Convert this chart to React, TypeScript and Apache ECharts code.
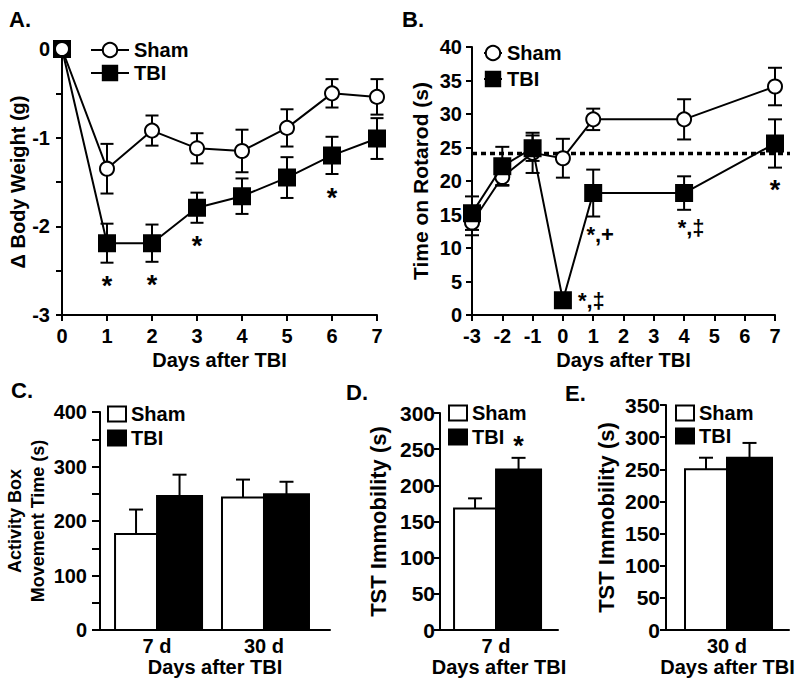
import React, { useEffect, useRef } from 'react';
import * as echarts from 'echarts';

// ---------- Panel A: body weight change ----------
const daysA = [0, 1, 2, 3, 4, 5, 6, 7];
const shamA = [0, -1.35, -0.92, -1.12, -1.15, -0.89, -0.5, -0.54];
const shamASem = [0, 0.28, 0.17, 0.17, 0.24, 0.21, 0.16, 0.2];
const tbiA = [0, -2.19, -2.19, -1.79, -1.66, -1.45, -1.2, -1.01];
const tbiASem = [0, 0.22, 0.21, 0.17, 0.2, 0.23, 0.21, 0.23];
const sigADays = [1, 2, 3, 6];
const sigAText = ['*', '*', '*', '*'];

// ---------- Panel B: rotarod ----------
const daysB = [-3, -2, -1, 0, 1, 4, 7];
const shamB = [13.8, 20.6, 24.2, 23.4, 29.2, 29.2, 34.1];
const shamBSem = [1.9, 1.2, 3.0, 2.9, 1.6, 3.0, 2.8];
const tbiB = [15.2, 22.2, 24.9, 2.2, 18.2, 18.2, 25.6];
const tbiBSem = [2.5, 2.9, 1.9, 1.0, 3.5, 2.5, 3.6];
const baselineB = 24.1;
const sigBDays = [0, 1, 4, 7];
const sigBText = ['*,‡', '*,+', '*,‡', '*'];

// ---------- Panel C: activity box ----------
const catsC = ['7 d', '30 d'];
const shamC = [176, 243];
const shamCSem = [45, 33];
const tbiC = [246, 249];
const tbiCSem = [39, 23];

// ---------- Panel D: TST 7 d ----------
const catsD = ['7 d'];
const shamD = [168];
const shamDSem = [14];
const tbiD = [222];
const tbiDSem = [16];
const sigDText = ['*'];

// ---------- Panel E: TST 30 d ----------
const catsE = ['30 d'];
const shamE = [250];
const shamESem = [18];
const tbiE = [268];
const tbiESem = [23];

// ---------- layout (not data) ----------
const FONT = "'Liberation Sans', Arial, Helvetica, sans-serif";
const posC = [0.248, 0.713];
const posD = [0.475];
const posE = [0.496];
const SHAM_W = 42;
const TBI_W = 45;

const txt = (size: number) => ({ fontFamily: FONT, fontWeight: 'bold' as const, fontSize: size, color: '#000' });
const axLine = { show: true, onZero: false, lineStyle: { color: '#000', width: 2 } };
const tick = (len: number) => ({ show: true, length: len, lineStyle: { color: '#000', width: 2 } });

const errRender = (both: boolean, cap: number, dx: number) => (params: any, api: any) => {
  const x = api.value(0);
  const m = api.value(1);
  const s = api.value(2);
  if (!s) return null;
  const hi = api.coord([x, m + s]);
  const lo = api.coord([x, both ? m - s : m]);
  const cx = hi[0] + dx;
  const st = { stroke: '#000', lineWidth: 2 };
  const children: any[] = [
    { type: 'line', shape: { x1: cx, y1: hi[1], x2: cx, y2: lo[1] }, style: st },
    { type: 'line', shape: { x1: cx - cap / 2, y1: hi[1], x2: cx + cap / 2, y2: hi[1] }, style: st },
  ];
  if (both) children.push({ type: 'line', shape: { x1: cx - cap / 2, y1: lo[1], x2: cx + cap / 2, y2: lo[1] }, style: st });
  return { type: 'group', children };
};

const barRender = (side: number, w: number, fill: string) => (params: any, api: any) => {
  const x = api.value(0);
  const v = api.value(1);
  const b = api.coord([x, 0]);
  const t = api.coord([x, v]);
  const left = side < 0 ? b[0] - w : b[0];
  return { type: 'rect', shape: { x: left, y: t[1], width: w, height: b[1] - t[1] }, style: { fill, stroke: '#000', lineWidth: 2 } };
};

const errSeries = (g: number, xs: number[], m: number[], s: number[], both: boolean, cap: number, dx: number, z: number) => ({
  type: 'custom',
  xAxisIndex: g,
  yAxisIndex: g,
  silent: true,
  z,
  encode: { x: 0, y: 1 },
  data: xs.map((x, i) => [x, m[i], s[i]]),
  renderItem: errRender(both, cap, dx),
});

const barSeries = (name: string, g: number, xs: number[], v: number[], side: number, w: number, fill: string) => ({
  type: 'custom',
  name,
  xAxisIndex: g,
  yAxisIndex: g,
  silent: true,
  z: 2,
  itemStyle: { color: fill, borderColor: '#000', borderWidth: 2 },
  encode: { x: 0, y: 1 },
  data: xs.map((x, i) => [x, v[i]]),
  renderItem: barRender(side, w, fill),
});

const lineSeries = (name: string, g: number, xs: number[], v: number[], symbol: string, size: number, fill: string, z: number) => ({
  type: 'line',
  name,
  xAxisIndex: g,
  yAxisIndex: g,
  clip: false,
  z,
  symbol,
  symbolSize: size,
  showSymbol: true,
  itemStyle: { color: fill, borderColor: '#000', borderWidth: 2, opacity: 1 },
  lineStyle: { color: '#000', width: 2 },
  data: xs.map((x, i) => [x, v[i]]),
});

// significance marks: text anchored at a data point, placed below / above / right of it
const annSeries = (g: number, pts: { x: number; y: number; t: string }[], place: string, gap: number, dxMulti: number, dxSingle: number) => ({
  type: 'custom',
  xAxisIndex: g,
  yAxisIndex: g,
  silent: true,
  z: 6,
  encode: { x: 0, y: 1 },
  data: pts.map((p) => [p.x, p.y]),
  renderItem: (params: any, api: any) => {
    const c = api.coord([api.value(0), api.value(1)]);
    const t = pts[params.dataIndex].t;
    const multi = t.length > 1;
    const fs = multi ? 22 : 27;
    let x = c[0] + (multi ? dxMulti : dxSingle);
    let y = c[1];
    let align = 'center';
    let va = 'top';
    if (place === 'below') y += multi ? gap : gap + 2;
    else if (place === 'above') {
      y -= gap;
      va = 'bottom';
    } else {
      x += gap;
      align = 'left';
      va = 'middle';
    }
    return {
      type: 'text',
      x,
      y,
      style: { text: t, fill: '#000', fontFamily: FONT, fontWeight: 'bold', fontSize: fs, align, verticalAlign: va },
    };
  },
});

const catAxis = (g: number, pos: number[], cats: string[]) => ({
  type: 'value',
  gridIndex: g,
  min: 0,
  max: 1,
  axisLine: axLine,
  axisTick: { show: false },
  splitLine: { show: false },
  axisLabel: {
    ...txt(20),
    margin: 6,
    customValues: pos,
    formatter: (v: number) => {
      let best = 0;
      pos.forEach((p, i) => {
        if (Math.abs(p - v) < Math.abs(pos[best] - v)) best = i;
      });
      return cats[best];
    },
  },
  name: 'Days after TBI',
  nameLocation: 'middle',
  nameGap: 25,
  nameTextStyle: txt(20),
});

const legendLine = (left: number, top: number, w: number, gap: number) => ({
  left,
  top,
  orient: 'vertical',
  itemWidth: w,
  itemHeight: 18,
  itemGap: gap,
  selectedMode: false,
  padding: 0,
  textStyle: txt(20),
  data: ['Sham', 'TBI'],
});

const legendBar = (left: number, top: number, gap: number) => ({
  left,
  top,
  orient: 'vertical',
  itemWidth: 18,
  itemHeight: 15,
  itemGap: gap,
  selectedMode: false,
  padding: 0,
  textStyle: txt(20),
  formatter: (n: string) => n.split('|')[0],
  data: [
    { name: 'Sham|bar', icon: 'rect', itemStyle: { color: '#fff', borderColor: '#000', borderWidth: 2 } },
    { name: 'TBI|bar', icon: 'rect', itemStyle: { color: '#000', borderColor: '#000', borderWidth: 2 } },
  ],
});

function buildOption() {
  const aIdx = (d: number) => daysA.indexOf(d);
  const sigA = sigADays.map((d, i) => ({ x: d, y: tbiA[aIdx(d)] - tbiASem[aIdx(d)], t: sigAText[i] }));
  const bIdx = (d: number) => daysB.indexOf(d);
  const sigB0 = [{ x: sigBDays[0], y: tbiB[bIdx(sigBDays[0])], t: sigBText[0] }];
  const sigBRest = sigBDays.slice(1).map((d, i) => ({ x: d, y: tbiB[bIdx(d)] - tbiBSem[bIdx(d)], t: sigBText[i + 1] }));
  const sigD = [{ x: posD[0], y: tbiD[0] + tbiDSem[0], t: sigDText[0] }];

  return {
    animation: false,
    backgroundColor: '#fff',
    textStyle: { fontFamily: FONT, fontWeight: 'bold', color: '#000' },
    title: [
      { text: 'A.', left: 9, top: 8, padding: 0, textStyle: txt(22) },
      { text: 'B.', left: 402, top: 8, padding: 0, textStyle: txt(22) },
      { text: 'C.', left: 11, top: 379, padding: 0, textStyle: txt(22) },
      { text: 'D.', left: 346, top: 381, padding: 0, textStyle: txt(22) },
      { text: 'E.', left: 565, top: 382, padding: 0, textStyle: txt(22) },
    ],
    legend: [
      legendLine(90, 40, 38, 3),
      legendLine(483, 43, 18, 6),
      legendBar(107, 404, 4),
      legendBar(448, 403, 4),
      legendBar(675, 403, 3),
    ],
    grid: [
      { left: 62, top: 49, width: 315, height: 266, outerBoundsMode: 'none' },
      { left: 472, top: 47, width: 303, height: 268, outerBoundsMode: 'none' },
      { left: 100, top: 412, width: 230, height: 218, outerBoundsMode: 'none' },
      { left: 440, top: 413, width: 118, height: 217, outerBoundsMode: 'none' },
      { left: 666, top: 405, width: 123, height: 225, outerBoundsMode: 'none' },
    ],
    xAxis: [
      {
        type: 'value', gridIndex: 0, min: 0, max: 7, interval: 1,
        axisLine: axLine, axisTick: tick(6), splitLine: { show: false },
        axisLabel: { ...txt(20), margin: 11 },
        name: 'Days after TBI', nameLocation: 'middle', nameGap: 35, nameTextStyle: txt(20),
      },
      {
        type: 'value', gridIndex: 1, min: -3, max: 7, interval: 1,
        axisLine: axLine, axisTick: tick(6), splitLine: { show: false },
        axisLabel: { ...txt(20), margin: 11 },
        name: 'Days after TBI', nameLocation: 'middle', nameGap: 35, nameTextStyle: txt(20),
      },
      catAxis(2, posC, catsC),
      catAxis(3, posD, catsD),
      catAxis(4, posE, catsE),
    ],
    yAxis: [
      {
        type: 'value', gridIndex: 0, min: -3, max: 0, interval: 0.5,
        axisLine: axLine, axisTick: tick(6), splitLine: { show: false },
        axisLabel: { ...txt(20), margin: 12, formatter: (v: number) => (Number.isInteger(v) ? String(v) : '') },
        name: 'Δ Body Weight (g)', nameLocation: 'middle', nameGap: 34, nameTextStyle: txt(20),
      },
      {
        type: 'value', gridIndex: 1, min: 0, max: 40, interval: 5,
        axisLine: axLine, axisTick: tick(6), splitLine: { show: false },
        axisLabel: { ...txt(20), margin: 10 },
        name: 'Time on Rotarod (s)', nameLocation: 'middle', nameGap: 41, nameTextStyle: txt(21),
      },
      {
        type: 'value', gridIndex: 2, min: 0, max: 400, interval: 50,
        axisLine: axLine, axisTick: tick(8), splitLine: { show: false },
        axisLabel: { ...txt(20), margin: 13, formatter: (v: number) => (v % 100 === 0 ? String(v) : '') },
        name: 'Activity Box\nMovement Time (s)', nameLocation: 'middle', nameGap: 48,
        nameTextStyle: { ...txt(18), lineHeight: 23 },
      },
      {
        type: 'value', gridIndex: 3, min: 0, max: 300, interval: 50,
        axisLine: axLine, axisTick: tick(6), splitLine: { show: false },
        axisLabel: { ...txt(21), margin: 5 },
        name: 'TST Immobility (s)', nameLocation: 'middle', nameGap: 51, nameTextStyle: txt(22),
      },
      {
        type: 'value', gridIndex: 4, min: 0, max: 350, interval: 50,
        axisLine: axLine, axisTick: tick(6), splitLine: { show: false },
        axisLabel: { ...txt(21), margin: 6 },
        name: 'TST Immobility (s)', nameLocation: 'middle', nameGap: 49, nameTextStyle: txt(22),
      },
    ],
    series: [
      // Panel A
      lineSeries('Sham', 0, daysA, shamA, 'circle', 14, '#fff', 5),
      lineSeries('TBI', 0, daysA, tbiA, 'rect', 16, '#000', 4),
      errSeries(0, daysA, shamA, shamASem, true, 13, 0, 1),
      errSeries(0, daysA, tbiA, tbiASem, true, 13, 0, 1),
      annSeries(0, sigA, 'below', 8, 0, 0),
      // Panel B
      {
        type: 'custom', xAxisIndex: 1, yAxisIndex: 1, silent: true, z: 1,
        encode: { x: 0, y: 1 },
        data: [[-3, baselineB]],
        renderItem: (params: any, api: any) => {
          const p = api.coord([api.value(0), api.value(1)]);
          const cs = params.coordSys;
          return {
            type: 'line',
            shape: { x1: p[0], y1: p[1], x2: cs.x + cs.width + 15, y2: p[1] },
            style: { stroke: '#000', lineWidth: 3.5, lineDash: [5, 4] },
          };
        },
      },
      errSeries(1, daysB, shamB, shamBSem, true, 14, 0, 1),
      errSeries(1, daysB, tbiB, tbiBSem, true, 14, 0, 1),
      lineSeries('Sham', 1, daysB, shamB, 'circle', 14, '#fff', 4),
      lineSeries('TBI', 1, daysB, tbiB, 'rect', 16, '#000', 5),
      annSeries(1, sigB0, 'right', 15, 0, 0),
      annSeries(1, sigBRest, 'below', 7, 7, 0),
      // Panel C
      barSeries('Sham|bar', 2, posC, shamC, -1, SHAM_W, '#fff'),
      barSeries('TBI|bar', 2, posC, tbiC, 1, TBI_W, '#000'),
      errSeries(2, posC, shamC, shamCSem, false, 14, -SHAM_W / 2, 3),
      errSeries(2, posC, tbiC, tbiCSem, false, 14, TBI_W / 2, 3),
      // Panel D
      barSeries('Sham|bar', 3, posD, shamD, -1, SHAM_W, '#fff'),
      barSeries('TBI|bar', 3, posD, tbiD, 1, TBI_W, '#000'),
      errSeries(3, posD, shamD, shamDSem, false, 14, -SHAM_W / 2, 3),
      errSeries(3, posD, tbiD, tbiDSem, false, 14, TBI_W / 2, 3),
      annSeries(3, sigD, 'above', -2, 0, TBI_W / 2),
      // Panel E
      barSeries('Sham|bar', 4, posE, shamE, -1, SHAM_W, '#fff'),
      barSeries('TBI|bar', 4, posE, tbiE, 1, TBI_W, '#000'),
      errSeries(4, posE, shamE, shamESem, false, 14, -SHAM_W / 2, 3),
      errSeries(4, posE, tbiE, tbiESem, false, 14, TBI_W / 2, 3),
    ],
  };
}

export default function App() {
  const ref = useRef<HTMLDivElement>(null);
  useEffect(() => {
    document.body.style.margin = '0';
    if (!ref.current) return;
    const chart = echarts.init(ref.current, undefined, { renderer: 'svg' });
    chart.setOption(buildOption() as any);
    return () => chart.dispose();
  }, []);
  return <div ref={ref} style={{ width: 800, height: 687 }} />;
}
